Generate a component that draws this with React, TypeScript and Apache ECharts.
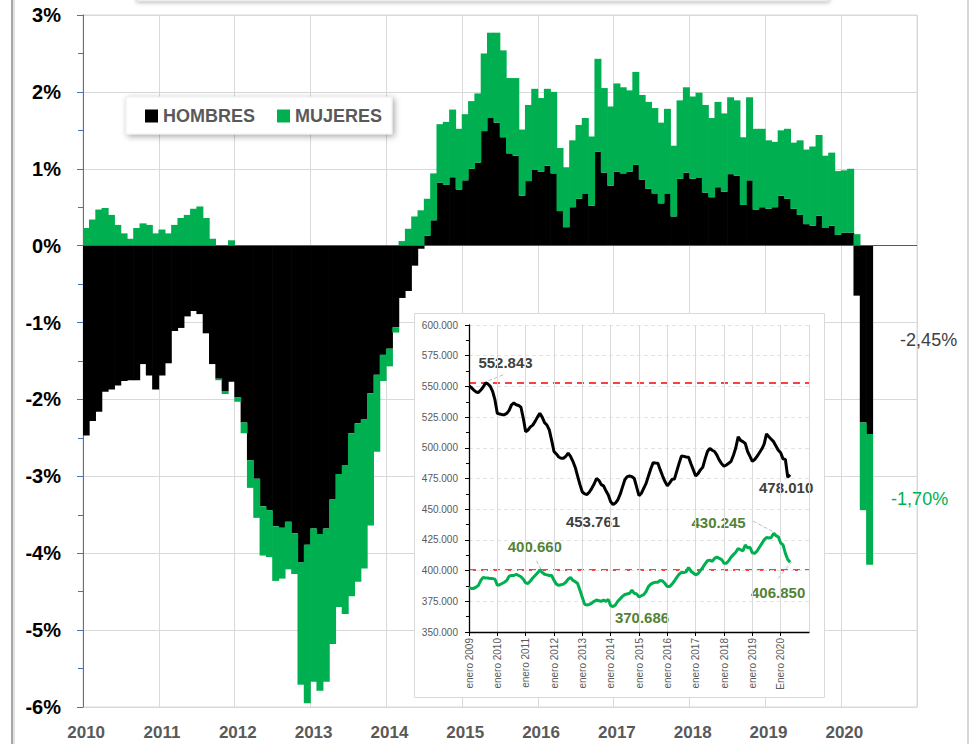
import React, { useEffect, useRef } from "react";
import * as echarts from "echarts";

// ---------- DATA ----------
const firstYear = 2010;
const lastYear = 2020;
const mainCategories: string[] = [];
for (let y = firstYear; y <= lastYear; y++) {
  for (let m = 1; m <= 12; m++) mainCategories.push(`${y}-${String(m).padStart(2, "0")}`);
}

// Variación (%) — HOMBRES (ene 2010 – may 2020)
const hombres = [
  -2.47, -2.28, -2.16, -1.9, -1.87, -1.82, -1.76, -1.75, -1.75, -1.54, -1.69, -1.87,
  -1.69, -1.53, -1.11, -1.07, -0.92, -0.85, -0.89, -1.14, -1.54, -1.73, -1.89, -1.77,
  -1.97, -2.3, -2.79, -3.03, -3.39, -3.44, -3.65, -3.67, -3.59, -3.74, -4.12, -3.89,
  -3.68, -3.75, -3.68, -3.3, -2.97, -2.86, -2.44, -2.31, -2.26, -1.92, -1.68, -1.42,
  -1.34, -1.06, -0.68, -0.59, -0.26, -0.04, 0.13, 0.33, 0.82, 0.79, 0.89, 0.73,
  0.85, 1.0, 1.08, 1.49, 1.66, 1.6, 1.41, 1.2, 1.17, 0.65, 0.84, 0.99,
  0.96, 1.04, 0.94, 0.45, 0.24, 0.5, 0.61, 0.68, 0.52, 1.22, 0.95, 0.78,
  0.96, 0.94, 0.96, 1.05, 0.86, 0.74, 0.68, 0.55, 0.68, 0.38, 0.87, 0.95,
  0.87, 0.88, 0.69, 0.63, 0.76, 0.7, 0.93, 0.91, 0.53, 0.85, 0.47, 0.5,
  0.48, 0.5, 0.65, 0.61, 0.48, 0.4, 0.28, 0.26, 0.39, 0.23, 0.26, 0.14,
  0.17, 0.17, -0.65, -2.3, -2.45,
];

// Variación (%) — MUJERES (ene 2010 – may 2020)
const mujeres = [
  0.23, 0.34, 0.47, 0.49, 0.4, 0.27, 0.16, 0.09, 0.23, 0.29, 0.27, 0.16,
  0.21, 0.16, 0.27, 0.36, 0.4, 0.48, 0.51, 0.36, 0.09, -0.02, -0.04, 0.07,
  -0.06, -0.14, -0.36, -0.51, -0.64, -0.61, -0.71, -0.66, -0.62, -0.53, -1.59, -2.06,
  -1.99, -2.04, -1.99, -1.88, -1.73, -1.93, -2.12, -2.06, -1.94, -1.72, -1.0, -0.34,
  -0.23, -0.07, 0.06, 0.22, 0.38, 0.46, 0.48, 0.61, 0.76, 0.82, 0.88, 0.79,
  0.86, 0.88, 0.9, 1.01, 1.11, 1.17, 1.13, 0.98, 1.01, 0.86, 0.99, 1.05,
  0.96, 1.0, 1.06, 0.82, 0.78, 0.87, 0.96, 0.98, 0.9, 1.21, 1.1, 1.03,
  1.15, 1.12, 1.06, 1.21, 1.1, 1.13, 1.11, 1.05, 1.1, 0.92, 1.02, 1.11,
  1.07, 1.11, 1.14, 1.03, 1.11, 1.02, 1.0, 0.98, 0.88, 1.08, 1.05, 1.02,
  0.89, 0.85, 0.85, 0.91, 0.86, 0.97, 0.97, 1.03, 1.05, 0.94, 0.95, 0.83,
  0.81, 0.83, 0.15, -1.14, -1.7,
];

// Inset — totales en miles (ene 2009 – may 2020)
const insetFirstYear = 2009;
const hombresMiles = [
  550.5, 549, 547, 545.5, 545, 547, 549.5, 552.843, 552, 550, 546, 539,
  528, 527.5, 527, 527, 528, 530.5, 535, 536.5, 535, 534.5, 533, 524,
  513, 514.5, 517, 518.5, 521.5, 525, 528, 525, 520.5, 518.5, 514.6, 506,
  497, 495, 492.5, 491.5, 491.5, 493, 495.6, 493, 489, 484, 477, 470,
  464, 462.5, 462, 464, 467, 470.5, 475, 473.5, 470, 469, 465, 461.5,
  456, 453.761, 455, 457.5, 462, 468, 474, 476.5, 477, 476.5, 475, 468,
  461, 463, 467, 471, 477, 483, 487.9, 487.6, 487.4, 482, 477, 472.5,
  469, 471.5, 474.3, 474.5, 481, 487.5, 493.4, 493, 492.5, 492.3, 487, 482,
  477, 479, 482, 484.1, 491, 497, 499.6, 498, 497, 494, 490, 487,
  485, 486, 487.4, 489, 494, 500, 509, 506, 505, 503.5, 497, 493,
  489, 490.5, 493, 496, 499, 503, 511.3, 509, 507, 505, 501.5, 498,
  496, 491, 490.5, 476, 478.01,
];
const mujeresMiles = [
  386, 385.5, 385.5, 386.5, 388, 392, 394.5, 394, 394, 393.5, 393.5, 393,
  388, 388.5, 389.5, 390.5, 392, 395.5, 396, 396, 397, 396, 395, 393,
  390, 389.5, 391.5, 394, 396, 398, 400.66, 398.5, 397, 396.5, 396, 396,
  392, 389, 388, 388.5, 389, 390.5, 393, 394.5, 392, 391, 389.5, 384,
  378, 372.5, 372, 372.5, 373.5, 375, 376, 375.5, 375, 376, 375, 376.5,
  371.5, 370.686, 372, 375, 377, 379, 380.5, 381, 381.5, 384, 381.5, 381,
  378.5, 379.5, 380.5, 383, 387, 389, 390, 390.5, 390.5, 392, 391.5, 389.5,
  387, 387, 389, 391.5, 394.5, 397, 398.5, 398.5, 399, 402.5, 399.5, 398,
  396.5, 397.5, 400, 402.5, 405.5, 408, 408.5, 407.5, 410, 411, 410, 409,
  406, 406, 408, 411, 413, 415, 418, 417, 416, 420.8, 418.5, 419,
  414.5, 414, 416, 419, 422, 425, 427, 426.5, 427, 430.245, 428.5, 427.5,
  422.5, 421, 414, 409, 406.85,
];
// months annotated in the inset
const notasHombres = [7, 61, 136];
const notasMujeres = [30, 61, 129, 136];
const refHombres = hombresMiles[7];
const refMujeres = mujeresMiles[30];

// ---------- STYLE ----------
const FONT = '"Liberation Sans", Arial, sans-serif';
const BLACK = "#000000";
const GREEN = "#00B050";
const NOTE_DARK = "#404040";
const NOTE_GREEN = "#548235";

const fmtPct = (v: number) => v.toFixed(2).replace(".", ",") + "%";
const fmtMiles = (v: number) => v.toFixed(3);
const lastIdx = hombres.length - 1;

const notaOffsetsH: Record<number, number[]> = { 7: [20, -20], 61: [-20, 17], 136: [-4, 13] };
const notaOffsetsM: Record<number, number[]> = { 30: [-5, -23], 61: [29, 11], 129: [-55, -11], 136: [-12, 30] };

function buildOption() {
  const leader = { color: "#bfbfbf", type: "dashed", width: 1 };
  return {
    animation: false,
    textStyle: { fontFamily: FONT },
    grid: [
      { left: 83, right: 57, top: 15, bottom: 37, show: true, borderColor: "#d9d9d9", borderWidth: 1, backgroundColor: "transparent" },
      { left: 469, top: 325, width: 340, height: 307 },
    ],
    legend: {
      left: 126,
      top: 97,
      data: ["HOMBRES", "MUJERES"],
      icon: "rect",
      itemWidth: 13,
      itemHeight: 13,
      itemGap: 22,
      padding: [10, 10, 9, 19],
      backgroundColor: "#ffffff",
      borderColor: "#ececec",
      borderWidth: 1,
      shadowBlur: 6,
      shadowColor: "rgba(0,0,0,0.35)",
      shadowOffsetX: 2,
      shadowOffsetY: 2,
      selectedMode: false,
      textStyle: { fontSize: 18, fontWeight: "bold", color: "#595959", fontFamily: FONT },
    },
    xAxis: [
      {
        type: "category",
        gridIndex: 0,
        data: mainCategories,
        boundaryGap: true,
        axisLine: { show: false },
        axisTick: { show: false },
        axisLabel: {
          interval: 11,
          formatter: (v: string) => (v.endsWith("-01") ? v.slice(0, 4) : ""),
          fontSize: 17,
          fontWeight: "bold",
          color: "#595959",
          margin: 17,
          fontFamily: FONT,
        },
        splitLine: { show: true, interval: 11, lineStyle: { color: "#d9d9d9", width: 1 } },
      },
      {
        type: "value",
        gridIndex: 1,
        min: 0,
        max: 144,
        interval: 12,
        z: 6,
        axisLine: { show: true, onZero: false, lineStyle: { color: "#000", width: 1.3 } },
        axisTick: { show: true, length: 4, lineStyle: { color: "#000" } },
        axisLabel: {
          rotate: 90,
          fontSize: 10,
          color: "#595959",
          margin: 6,
          fontFamily: FONT,
          showMaxLabel: false,
          formatter: (v: number) => {
            if (v >= 144) return "";
            const yr = insetFirstYear + v / 12;
            return (yr === 2020 ? "Enero " : "enero ") + yr;
          },
        },
        splitLine: { show: true, lineStyle: { color: "#d9d9d9", width: 1 } },
      },
    ],
    yAxis: [
      {
        type: "value",
        gridIndex: 0,
        min: -6,
        max: 3,
        interval: 1,
        axisLine: { show: true, lineStyle: { color: "#4472C4", width: 1 } },
        axisTick: { show: true, length: 6, lineStyle: { color: "#4472C4" } },
        minorTick: { show: true, splitNumber: 2, length: 5, lineStyle: { color: "#4472C4" } },
        axisLabel: { formatter: "{value}%", fontSize: 20, fontWeight: "bold", color: "#000", margin: 22, fontFamily: FONT },
        splitLine: { show: true, lineStyle: { color: "#d9d9d9", width: 1 } },
      },
      {
        type: "value",
        gridIndex: 1,
        min: 350,
        max: 600,
        interval: 25,
        z: 6,
        axisLine: { show: true, lineStyle: { color: "#000", width: 1.3 } },
        axisTick: { show: true, length: 4, lineStyle: { color: "#000" } },
        minorTick: { show: true, splitNumber: 2, length: 3, lineStyle: { color: "#000" } },
        axisLabel: { formatter: fmtMiles, fontSize: 10, color: "#595959", margin: 11, fontFamily: FONT },
        splitLine: { show: true, lineStyle: { color: "#e3e3e3", type: [4, 3], width: 1 } },
      },
    ],
    series: [
      {
        name: "HOMBRES",
        type: "bar",
        stack: "total",
        xAxisIndex: 0,
        yAxisIndex: 0,
        barWidth: 7,
        itemStyle: { color: BLACK },
        data: hombres.map((v, i) =>
          i === lastIdx
            ? { value: v, label: { show: true, position: "right", distance: 27, formatter: fmtPct(v), color: NOTE_DARK, fontSize: 18, fontFamily: FONT } }
            : v
        ),
        markLine: {
          silent: true,
          symbol: ["none", "none"],
          label: { show: false },
          lineStyle: { color: "#595959", width: 1, type: "solid" },
          data: [{ yAxis: 0 }],
        },
      },
      {
        name: "MUJERES",
        type: "bar",
        stack: "total",
        xAxisIndex: 0,
        yAxisIndex: 0,
        barWidth: 7,
        itemStyle: { color: GREEN },
        data: mujeres.map((v, i) =>
          i === lastIdx
            ? { value: v, label: { show: true, position: "right", distance: 18, formatter: fmtPct(v), color: GREEN, fontSize: 18, fontFamily: FONT } }
            : v
        ),
      },
      {
        name: "hombresMiles",
        type: "line",
        xAxisIndex: 1,
        yAxisIndex: 1,
        z: 7,
        showSymbol: false,
        symbol: "none",
        smooth: false,
        lineStyle: { color: BLACK, width: 3 },
        itemStyle: { color: BLACK },
        data: hombresMiles.map((v, i) => [i, v]),
        markLine: {
          silent: true,
          symbol: ["none", "none"],
          label: { show: false },
          data: [
            { yAxis: refHombres, lineStyle: { color: "#ff0000", type: [7, 5], width: 1.5 } },
            [
              { coord: [8.2, 554.6], lineStyle: leader },
              { coord: [15.2, 560], lineStyle: leader },
            ],
          ],
        },
        markPoint: {
          symbol: "circle",
          symbolSize: 1,
          silent: true,
          itemStyle: { color: "rgba(0,0,0,0)" },
          data: notasHombres.map((m) => ({
            coord: [m, hombresMiles[m]],
            label: {
              show: true,
              position: "inside",
              offset: notaOffsetsH[m],
              formatter: fmtMiles(hombresMiles[m]),
              color: NOTE_DARK,
              fontSize: 15,
              fontWeight: "bold",
              fontFamily: FONT,
            },
          })),
        },
      },
      {
        name: "mujeresMiles",
        type: "line",
        xAxisIndex: 1,
        yAxisIndex: 1,
        z: 7,
        showSymbol: false,
        symbol: "none",
        lineStyle: { color: GREEN, width: 3 },
        itemStyle: { color: GREEN },
        data: mujeresMiles.map((v, i) => [i, v]),
        markLine: {
          silent: true,
          symbol: ["none", "none"],
          label: { show: false },
          data: [
            { yAxis: refMujeres, lineStyle: { color: "#ff0000", type: [7, 5], width: 1.5 } },
            [
              { coord: [28.6, 408], lineStyle: leader },
              { coord: [30.5, 401], lineStyle: leader },
            ],
            [
              { coord: [120.3, 440.3], lineStyle: leader },
              { coord: [130.2, 430.3], lineStyle: leader },
            ],
            [
              { coord: [130.9, 393.6], lineStyle: leader },
              { coord: [136.6, 407], lineStyle: leader },
            ],
          ],
        },
        markPoint: {
          symbol: "circle",
          symbolSize: 1,
          silent: true,
          itemStyle: { color: "rgba(0,0,0,0)" },
          data: notasMujeres.map((m) => ({
            coord: [m, mujeresMiles[m]],
            label: {
              show: true,
              position: "inside",
              offset: notaOffsetsM[m],
              formatter: fmtMiles(mujeresMiles[m]),
              color: NOTE_GREEN,
              fontSize: 15,
              fontWeight: "bold",
              fontFamily: FONT,
            },
          })),
        },
      },
    ],
    graphic: [
      {
        type: "rect",
        z: 5,
        silent: true,
        shape: { x: 414.5, y: 313.5, width: 410, height: 384 },
        style: { fill: "#ffffff", stroke: "#d9d9d9", lineWidth: 1 },
      },
      {
        type: "rect",
        z: 5,
        silent: true,
        shape: { x: 137, y: -30, width: 692, height: 31 },
        style: { fill: "#ffffff", stroke: "#d9d9d9", lineWidth: 1, shadowBlur: 4, shadowColor: "rgba(0,0,0,0.3)", shadowOffsetY: 1 },
      },
      {
        type: "line",
        z: 5,
        silent: true,
        shape: { x1: 12, y1: 0, x2: 12, y2: 744 },
        style: { stroke: "#a6a6a6", lineWidth: 2 },
      },
      {
        type: "line",
        z: 5,
        silent: true,
        shape: { x1: 14, y1: 0, x2: 14, y2: 744 },
        style: { stroke: "#e0e0e0", lineWidth: 2 },
      },
      {
        type: "line",
        z: 5,
        silent: true,
        shape: { x1: 968, y1: 0, x2: 968, y2: 744 },
        style: { stroke: "#d6d6d6", lineWidth: 2 },
      },
    ],
  };
}

export default function App() {
  const ref = useRef<HTMLDivElement>(null);
  useEffect(() => {
    if (!ref.current) return;
    const chart = echarts.init(ref.current, null, { renderer: "svg" });
    chart.setOption(buildOption() as any);
    return () => chart.dispose();
  }, []);
  return (
    <div
      ref={ref}
      style={{ position: "fixed", left: 0, top: 0, width: 974, height: 744, background: "#ffffff" }}
    />
  );
}
